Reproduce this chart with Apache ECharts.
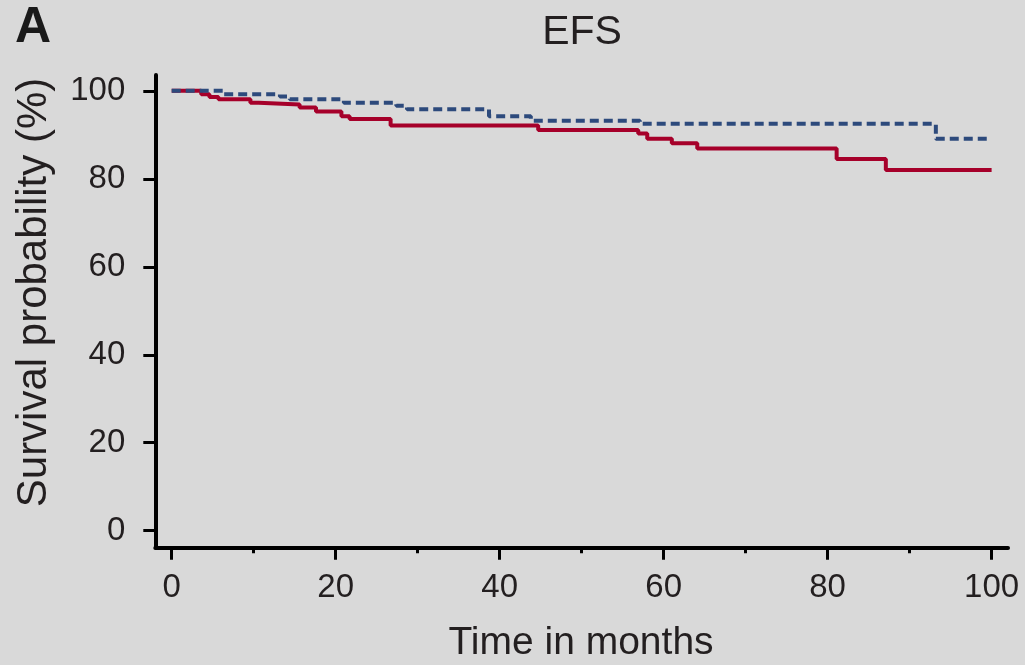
<!DOCTYPE html>
<html>
<head>
<meta charset="utf-8">
<script src="https://cdn.jsdelivr.net/npm/echarts@6/dist/echarts.min.js"></script>
<style>
  html, body { margin: 0; padding: 0; background: #d9d9d9; }
  #chart { width: 1025px; height: 665px; }
</style>
</head>
<body>
<div id="chart"></div>
<script>
// Kaplan–Meier event-free survival, two groups (step functions)
const redTimes  = [0, 3.6, 4.6, 5.7, 9.6, 10.6, 15.6, 17.6, 20.7, 21.7, 26.7, 44.7, 56.9, 58.0, 61.0, 64.1, 81.1, 87.1, 100];
const redValues = [100, 99.2, 98.6, 98.1, 97.3, 96.9, 96.2, 95.3, 94.2, 93.6, 92.1, 91.1, 90.3, 89.1, 88.1, 86.9, 84.5, 82.0, 82.0];

const blueTimes  = [0, 6.3, 13.2, 14.4, 21.0, 27.4, 28.7, 38.7, 43.8, 57.1, 93.2, 100];
const blueValues = [100, 99.2, 98.7, 98.1, 97.3, 96.6, 95.8, 94.2, 93.2, 92.5, 89.1, 89.1];

const xMajorTicks = [0, 20, 40, 60, 80, 100];
const xMinorTicks = [10, 30, 50, 70, 90];
const yTicks = [0, 20, 40, 60, 80, 100];

const panelLabel = 'A';
const titleText = 'EFS';
const xAxisTitle = 'Time in months';
const yAxisTitle = 'Survival probability (%)';

const FONT = '"Liberation Sans", Arial, Helvetica, sans-serif';
const INK = '#231f20';

const pairs = (xs, ys) => xs.map((x, i) => [x, ys[i]]);

const chart = echarts.init(document.getElementById('chart'), null, { renderer: 'canvas' });

chart.setOption({
  backgroundColor: '#d9d9d9',
  animation: false,
  grid: { left: 155.3, right: 17, top: 75, bottom: 117.3, containLabel: false },
  xAxis: [
    {
      type: 'value', min: -2, max: 102, position: 'bottom',
      axisLine: { show: true, onZero: false, lineStyle: { color: '#000', width: 4 } },
      axisTick: { show: true, customValues: xMajorTicks, length: 12, lineStyle: { color: '#000', width: 3 } },
      axisLabel: { customValues: xMajorTicks, margin: 24, color: INK, fontSize: 33, fontFamily: FONT },
      splitLine: { show: false }
    },
    {
      type: 'value', min: -2, max: 102, position: 'bottom', gridIndex: 0,
      axisLine: { show: false, onZero: false },
      axisTick: { show: true, customValues: xMinorTicks, length: 5.5, lineStyle: { color: '#000', width: 3 } },
      axisLabel: { show: false },
      splitLine: { show: false }
    }
  ],
  yAxis: {
    type: 'value', min: -3.86, max: 103.6,
    axisLine: { show: true, onZero: false, lineStyle: { color: '#000', width: 4 } },
    axisTick: { show: true, customValues: yTicks, length: 12, lineStyle: { color: '#000', width: 3 } },
    axisLabel: { customValues: yTicks, margin: 30, color: INK, fontSize: 33, fontFamily: FONT },
    splitLine: { show: false }
  },
  series: [
    {
      name: 'group 1', type: 'line', step: 'end', symbol: 'none',
      data: pairs(blueTimes, blueValues),
      lineStyle: { color: '#2d4a7c', width: 4, type: [9, 5] },
      z: 3
    },
    {
      name: 'group 2', type: 'line', step: 'end', symbol: 'none',
      data: pairs(redTimes, redValues),
      lineStyle: { color: '#a6002a', width: 4 },
      z: 2
    }
  ],
  graphic: [
    {
      type: 'text', x: 15, y: 28,
      style: { text: panelLabel, font: 'bold 50px ' + FONT, fill: '#1a1a1a', textAlign: 'left', textVerticalAlign: 'middle' }
    },
    {
      type: 'text', x: 582, y: 33,
      style: { text: titleText, font: '41px ' + FONT, fill: INK, textAlign: 'center', textVerticalAlign: 'middle' }
    },
    {
      type: 'text', x: 581, y: 643.5,
      style: { text: xAxisTitle, font: '39px ' + FONT, fill: INK, textAlign: 'center', textVerticalAlign: 'middle' }
    },
    {
      type: 'text', x: 34, y: 292.5, rotation: Math.PI / 2,
      style: { text: yAxisTitle, font: '42px ' + FONT, fill: INK, textAlign: 'center', textVerticalAlign: 'middle' }
    }
  ]
});
</script>
</body>
</html>
